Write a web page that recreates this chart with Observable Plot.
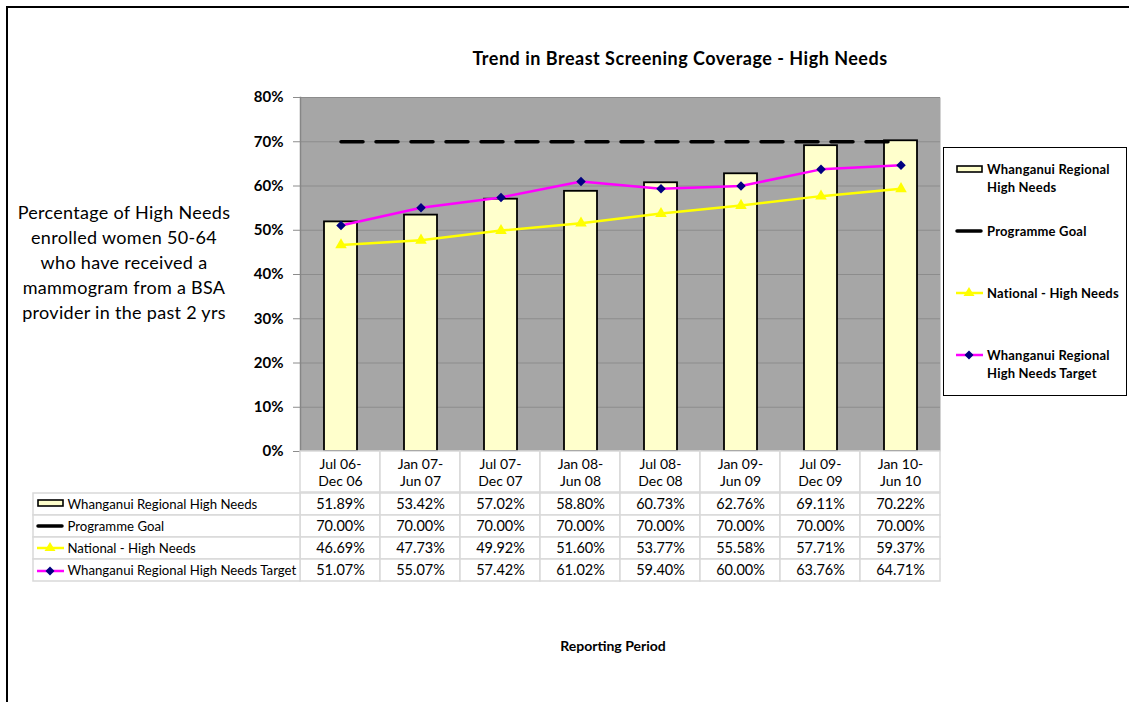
<!DOCTYPE html>
<html>
<head>
<meta charset="utf-8">
<script src="https://cdn.jsdelivr.net/npm/d3@7"></script>
<script src="https://cdn.jsdelivr.net/npm/@observablehq/plot@0.6"></script>
<style>
  body { margin: 0; background: #fff; font-family: Lato, "Open Sans", sans-serif; }
  #root { position: relative; width: 1129px; height: 702px; overflow: hidden; background: #fff; }
  .abs { position: absolute; }
  .frame { left: 6px; top: 6px; width: 1300px; height: 900px; border-left: 2px solid #000; border-top: 2px solid #000; }
  .title { left: 380px; width: 600px; top: 47px; line-height: 22px; text-align: center; font-size: 18px; letter-spacing: 0.5px; font-weight: bold; color: #000; }
  .ylab { left: 4px; width: 240px; top: 200px; line-height: 25px; text-align: center; font-size: 18px; letter-spacing: 0.3px; color: #000; }
  .xlab { left: 513px; width: 200px; top: 637px; line-height: 18px; text-align: center; font-size: 14px; font-weight: bold; color: #000; }
  .legend { left: 943px; top: 147px; width: 182px; height: 247px; border: 1.5px solid #000; background: #fff; }
  .legitem { font-size: 13px; letter-spacing: 0.2px; font-weight: bold; line-height: 18px; color: #000; white-space: nowrap; }
  svg { overflow: visible; }
</style>
</head>
<body>
<div id="root"></div>
<script>
// ---- Data ----
const periods = ["Jul 06-\nDec 06", "Jan 07-\nJun 07", "Jul 07-\nDec 07", "Jan 08-\nJun 08",
                 "Jul 08-\nDec 08", "Jan 09-\nJun 09", "Jul 09-\nDec 09", "Jan 10-\nJun 10"];
const whanganui = [51.89, 53.42, 57.02, 58.80, 60.73, 62.76, 69.11, 70.22];
const goal      = [70.00, 70.00, 70.00, 70.00, 70.00, 70.00, 70.00, 70.00];
const national  = [46.69, 47.73, 49.92, 51.60, 53.77, 55.58, 57.71, 59.37];
const target    = [51.07, 55.07, 57.42, 61.02, 59.40, 60.00, 63.76, 64.71];
const seriesNames = ["Whanganui Regional High Needs", "Programme Goal", "National - High Needs", "Whanganui Regional High Needs Target"];
const legendNames = ["Whanganui Regional\nHigh Needs", "Programme Goal", "National - High Needs", "Whanganui Regional\nHigh Needs Target"];
const yTicks = [0, 10, 20, 30, 40, 50, 60, 70, 80];
const titleText = "Trend in Breast Screening Coverage - High Needs";
const yLabelText = "Percentage of High Needs\nenrolled women 50-64\nwho have received a\nmammogram from a BSA\nprovider in the past 2 yrs";
const xLabelText = "Reporting Period";

const seriesValues = [whanganui, goal, national, target];
const rows = periods.map((p, i) => ({period: p, w: whanganui[i], goal: goal[i], nat: national[i], tgt: target[i]}));
const tableData = seriesNames.flatMap((s, k) => periods.map((p, i) => ({series: s, period: p, v: seriesValues[k][i]})));

const FONT = "Lato, 'Open Sans', sans-serif";
const root = document.getElementById("root");

function place(el, left, top) {
  el.style.position = "absolute";
  el.style.left = left + "px";
  el.style.top = top + "px";
  root.appendChild(el);
  return el;
}
function div(cls, html) {
  const d = document.createElement("div");
  d.className = "abs " + cls;
  d.innerHTML = html;
  root.appendChild(d);
  return d;
}

div("frame", "");

// ---- Main chart ----
const main = Plot.plot({
  width: 950, height: 460,
  marginLeft: 300, marginRight: 10, marginTop: 97, marginBottom: 9,
  style: {background: "transparent", fontFamily: FONT, overflow: "visible"},
  x: {domain: periods, paddingInner: 0.59, paddingOuter: 0.295, axis: null},
  y: {domain: [0, 80]},
  marks: [
    Plot.frame({fill: "#A6A6A6", stroke: null}),
    Plot.ruleY(yTicks, {stroke: "#8C8C8C", strokeWidth: 1.2}),
    Plot.axisY({ticks: yTicks, tickFormat: d => d + "%", tickSize: 7, tickPadding: 10,
                fontSize: 15, fontWeight: "bold", fill: "#000", stroke: "#8C8C8C", label: null}),
    Plot.frame({anchor: "left", stroke: "#868686", strokeWidth: 1.5}),
    Plot.barY(rows, {x: "period", y: "w", fill: "#FFFFCC", stroke: "#000", strokeWidth: 1.8}),
    Plot.line(rows, {x: "period", y: "goal", stroke: "#000", strokeWidth: 3.5, strokeDasharray: "22,13", strokeLinecap: "round"}),
    Plot.line(rows, {x: "period", y: "nat", stroke: "#FFFF00", strokeWidth: 2.5}),
    Plot.dot(rows, {x: "period", y: "nat", symbol: "triangle", fill: "#FFFF00", r: 4.3}),
    Plot.line(rows, {x: "period", y: "tgt", stroke: "#FF00FF", strokeWidth: 2.5}),
    Plot.dot(rows, {x: "period", y: "tgt", symbol: "diamond2", fill: "#000080", r: 4.3})
  ]
});
place(main, 0, 0);

// ---- Table header ----
const header = Plot.plot({
  width: 950, height: 41,
  marginLeft: 300, marginRight: 10, marginTop: 0, marginBottom: 0,
  style: {background: "transparent", fontFamily: FONT, overflow: "visible"},
  x: {domain: periods, padding: 0, axis: null},
  marks: [
    Plot.cell(periods, {x: d => d, fill: "#fff", stroke: "#D9D9D9", strokeWidth: 1.5}),
    Plot.text(periods, {x: d => d, text: d => d, fontSize: 14, lineHeight: 1.25, frameAnchor: "middle", fill: "#000"})
  ]
});
place(header, 0, 451);

// ---- Table body ----
const body = Plot.plot({
  width: 950, height: 91,
  marginLeft: 300, marginRight: 10, marginTop: 0, marginBottom: 1,
  style: {background: "transparent", fontFamily: FONT, overflow: "visible"},
  x: {domain: periods, padding: 0, axis: null},
  y: {domain: seriesNames, padding: 0, axis: null},
  marks: [
    Plot.cell(tableData, {x: "period", y: "series", fill: "#fff", stroke: "#D9D9D9", strokeWidth: 1.5}),
    Plot.text(tableData, {x: "period", y: "series", text: d => d.v.toFixed(2) + "%", fontSize: 14.5, fill: "#000"})
  ]
});
place(body, 0, 492);

// ---- Table row labels ----
const labels = Plot.plot({
  width: 267, height: 91,
  marginLeft: 0, marginRight: 0, marginTop: 0, marginBottom: 1,
  style: {background: "transparent", fontFamily: FONT, overflow: "visible"},
  y: {domain: seriesNames, padding: 0, axis: null},
  marks: [
    Plot.cell(seriesNames, {y: d => d, fill: "#fff", stroke: "#D9D9D9", strokeWidth: 1.5}),
    Plot.text(seriesNames, {y: d => d, text: d => d, frameAnchor: "left", textAnchor: "start", dx: 34, fontSize: 13.2, fill: "#000"})
  ]
});
place(labels, 33, 492);

// ---- Swatches ----
function swatch(k) {
  const w = 28, h = 14, cy = 7;
  let s = `<svg width="${w}" height="${h}" viewBox="0 0 ${w} ${h}" xmlns="http://www.w3.org/2000/svg">`;
  if (k === 0) s += `<rect x="1" y="${cy - 3}" width="${w - 3}" height="6" fill="#FFFFCC" stroke="#000" stroke-width="1.6"/>`;
  if (k === 1) s += `<line x1="1" x2="${w - 3}" y1="${cy}" y2="${cy}" stroke="#000" stroke-width="3.5" stroke-linecap="round"/>`;
  if (k === 2) s += `<line x1="0" x2="${w - 1}" y1="${cy}" y2="${cy}" stroke="#FFFF00" stroke-width="2.5"/>` +
                    `<path d="M${w/2 - 1},${cy - 6} L${w/2 + 4.5},${cy + 3} L${w/2 - 6.5},${cy + 3} Z" fill="#FFFF00"/>`;
  if (k === 3) s += `<line x1="0" x2="${w - 1}" y1="${cy}" y2="${cy}" stroke="#FF00FF" stroke-width="2.5"/>` +
                    `<path d="M${w/2 - 1},${cy - 4.5} L${w/2 + 3.5},${cy} L${w/2 - 1},${cy + 4.5} L${w/2 - 5.5},${cy} Z" fill="#000080"/>`;
  return s + "</svg>";
}
// table icons
const rowH = 90 / seriesNames.length;
seriesNames.forEach((s, k) => {
  const d = document.createElement("div");
  d.innerHTML = swatch(k);
  d.style.lineHeight = "0";
  place(d, 37, 492 + rowH * k + rowH / 2 - 7);
});

// ---- Legend ----
div("legend", "");
const legendY = [169, 231, 293, 355];
legendNames.forEach((name, k) => {
  const sw = document.createElement("div");
  sw.innerHTML = swatch(k);
  sw.style.lineHeight = "0";
  place(sw, 956, legendY[k] - 7);
  const t = document.createElement("div");
  t.className = "legitem";
  t.innerHTML = name.split("\n").join("<br>");
  place(t, 987, legendY[k] - 9);
});

// ---- Texts ----
div("title", titleText);
div("ylab", yLabelText.split("\n").join("<br>"));
div("xlab", xLabelText);
</script>
</body>
</html>
